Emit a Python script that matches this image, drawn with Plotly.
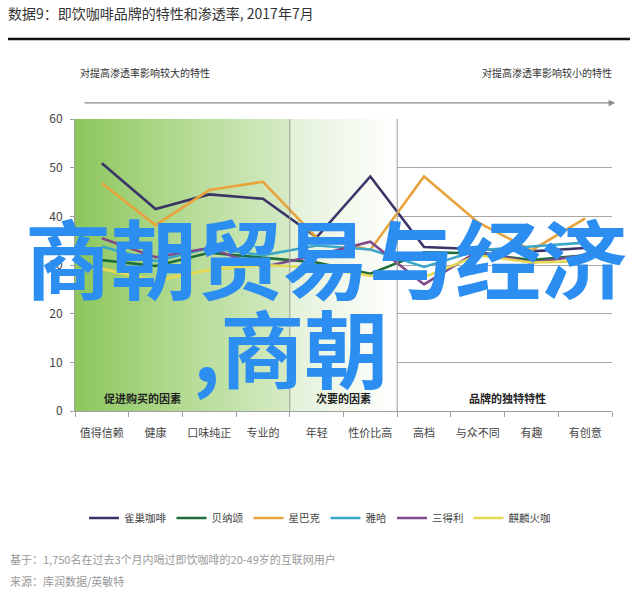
import plotly.graph_objects as go

categories = ["值得信赖", "健康", "口味纯正", "专业的", "年轻", "性价比高", "高档", "与众不同", "有趣", "有创意"]
brands = ["雀巢咖啡", "贝纳颂", "星巴克", "雅哈", "三得利", "麒麟火咖"]
nescafe = [50.9, 41.5, 44.5, 43.6, 35.7, 48.2, 33.7, 33.2, 32.8, 33.5]
bernachon = [31.0, 29.8, 32.5, 31.5, 30.5, 28.2, 32.6, 32.4, 31.0, 32.0]
starbucks = [46.8, 38.2, 45.4, 47.1, 35.6, 33.1, 48.2, 38.8, 33.0, 39.6]
yaha = [33.8, 30.8, 33.5, 32.0, 34.0, 33.2, 29.6, 33.0, 33.8, 34.6]
suntory = [35.5, 31.6, 33.5, 29.6, 32.0, 34.8, 26.0, 32.8, 30.5, 32.0]
kirin = [29.2, 26.8, 29.0, 30.0, 29.5, 27.8, 27.5, 32.0, 30.5, 30.8]
series = [nescafe, bernachon, starbucks, yaha, suntory, kirin]
colors = ["#3b3468", "#1f6e3a", "#e8a33d", "#3ba7c9", "#7e4a8c", "#e6da55"]
group_labels = ["促进购买的因素", "次要的因素", "品牌的独特特性"]
group_pos = [0.75, 4.5, 7.55]
y_ticks = [0, 10, 20, 30, 40, 50, 60]

FONT = "Noto Sans CJK SC"
xs = list(range(len(categories)))

fig = go.Figure()

# background gradient regions
fig.add_trace(go.Scatter(
    x=[-0.5, 3.5, 3.5, -0.5, -0.5], y=[0, 0, 60, 60, 0], mode="lines",
    line=dict(width=0), fill="toself",
    fillgradient=dict(type="horizontal",
                      colorscale=[[0, "#8cc65c"], [0.5, "#b3da92"], [1, "#d6ebc6"]]),
    hoverinfo="skip", showlegend=False))
fig.add_trace(go.Scatter(
    x=[3.5, 5.5, 5.5, 3.5, 3.5], y=[0, 0, 60, 60, 0], mode="lines",
    line=dict(width=0), fill="toself",
    fillgradient=dict(type="horizontal",
                      colorscale=[[0, "#e3f1d8"], [1, "#ffffff"]]),
    hoverinfo="skip", showlegend=False))

for name, vals, c in zip(brands, series, colors):
    fig.add_trace(go.Scatter(x=xs, y=vals, mode="lines", name=name,
                             line=dict(color=c, width=2.6)))

shapes = [
    dict(type="line", xref="x", yref="y", x0=3.5, x1=3.5, y0=0, y1=60,
         line=dict(color="#9a9a9a", width=1), layer="above"),
    dict(type="line", xref="x", yref="y", x0=5.5, x1=5.5, y0=0, y1=60,
         line=dict(color="#9a9a9a", width=1), layer="above"),
    dict(type="line", xref="paper", yref="paper", x0=-0.1248, x1=1.0335,
         y0=1.274, y1=1.274, line=dict(color="#111111", width=2.5)),
]

annotations = []
for lab, p in zip(group_labels, group_pos):
    annotations.append(dict(x=p, y=2.7, xref="x", yref="y", text="<b>" + lab + "</b>",
                            showarrow=False, font=dict(size=11, color="#222222", family=FONT)))

annotations += [
    dict(x=0.0056, y=1.158, xref="paper", yref="paper", xanchor="left", yanchor="middle",
         text="对提高渗透率影响较大的特性", showarrow=False,
         font=dict(size=10, color="#333333", family=FONT)),
    dict(x=1.004, y=1.158, xref="paper", yref="paper", xanchor="right", yanchor="middle",
         text="对提高渗透率影响较小的特性", showarrow=False,
         font=dict(size=10, color="#333333", family=FONT)),
    dict(x=1.006, y=1.055, xref="x domain", yref="y domain",
         ax=0.015, ay=1.055, axref="x domain", ayref="y domain",
         text="", showarrow=True, arrowhead=2, arrowsize=1.1, arrowwidth=1.2,
         arrowcolor="#8a8a8a"),
    dict(x=-0.1248, y=-0.507, xref="paper", yref="paper", xanchor="left", yanchor="middle",
         text="基于：1,750名在过去3个月内喝过即饮咖啡的20-49岁的互联网用户", showarrow=False,
         font=dict(size=11, color="#999999", family=FONT)),
    dict(x=-0.1248, y=-0.582, xref="paper", yref="paper", xanchor="left", yanchor="middle",
         text="来源：库润数据/英敏特", showarrow=False,
         font=dict(size=11, color="#999999", family=FONT)),
    # watermark overlay
    dict(x=0.468, y=0.532, xref="paper", yref="paper", xanchor="center", yanchor="middle",
         text="<b>商朝贸易与经济</b>", showarrow=False,
         font=dict(size=86, color="#2b8ef0", family=FONT)),
    dict(x=0.402, y=0.224, xref="paper", yref="paper", xanchor="center", yanchor="middle",
         text="<b>,商朝</b>", showarrow=False,
         font=dict(size=84, color="#2b8ef0", family=FONT)),
]

fig.update_layout(
    width=640, height=596,
    margin=dict(l=75, r=28, t=119, b=185),
    paper_bgcolor="white", plot_bgcolor="white",
    font=dict(family=FONT, color="#444444"),
    title=dict(text="数据9：即饮咖啡品牌的特性和渗透率, 2017年7月",
               x=8 / 640, xref="container", xanchor="left",
               y=1 - 14 / 596, yref="container", yanchor="middle",
               font=dict(size=14, color="#333333", family=FONT)),
    xaxis=dict(range=[-0.5, 9.5], tickmode="array", tickvals=xs, ticktext=categories,
               ticks="", showgrid=False, zeroline=False,
               showline=True, linecolor="#a0a0a0", linewidth=1,
               ticklabelstandoff=12,
               tickfont=dict(size=11, color="#444444"),
               minor=dict(tick0=-0.5, dtick=1, ticks="outside", ticklen=5,
                          tickcolor="#a0a0a0", showgrid=False)),
    yaxis=dict(range=[0, 60], tickvals=y_ticks, showgrid=True, gridcolor="#a8a8a8",
               gridwidth=1, zeroline=False, showline=True, linecolor="#a0a0a0",
               ticks="outside", ticklen=4, tickcolor="#a0a0a0",
               ticklabelstandoff=5,
               tickfont=dict(size=12, color="#444444")),
    legend=dict(orientation="h", xref="container", x=0.5, xanchor="center",
                yref="container", y=1 - 518 / 596, yanchor="middle",
                font=dict(size=10.5, color="#444444"), itemwidth=30,
                bgcolor="rgba(0,0,0,0)"),
    shapes=shapes, annotations=annotations,
)

fig.write_html("out.html", config={"displayModeBar": False},
               post_script="document.body.style.margin='0';document.body.style.padding='0';")
